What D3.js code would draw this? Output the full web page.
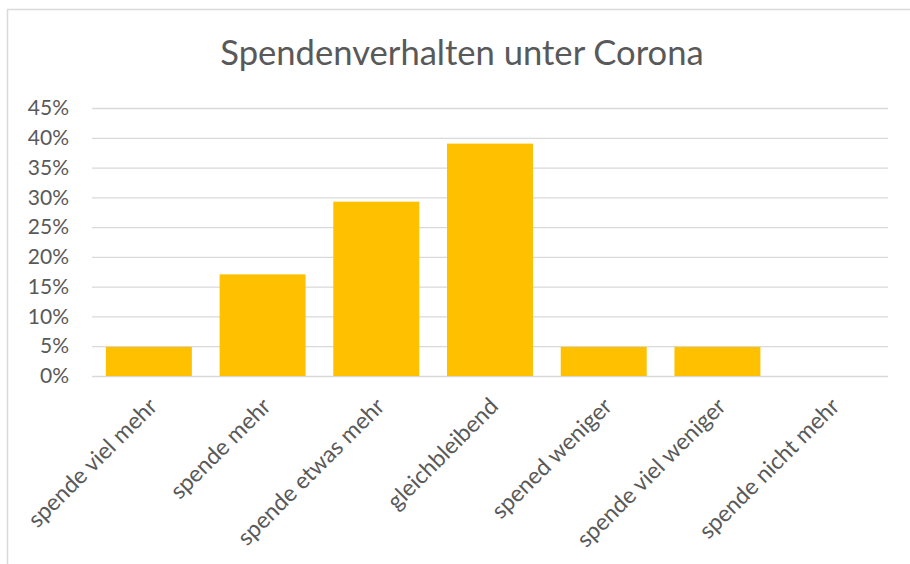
<!DOCTYPE html>
<html>
<head>
<meta charset="utf-8">
<script src="https://cdn.jsdelivr.net/npm/d3@7"></script>
<style>
  html, body { margin: 0; padding: 0; background: #fff; }
  svg { display: block; }
  text { font-family: Lato, "Open Sans", sans-serif; fill: #595959; }
</style>
</head>
<body>
<svg id="chart" width="910" height="564"></svg>
<script>
const title = "Spendenverhalten unter Corona";
const categories = ["spende viel mehr", "spende mehr", "spende etwas mehr", "gleichbleibend", "spened weniger", "spende viel weniger", "spende nicht mehr"];
const values = [0.0488, 0.1707, 0.2927, 0.3902, 0.0488, 0.0488, 0];
const yTicks = [0, 0.05, 0.10, 0.15, 0.20, 0.25, 0.30, 0.35, 0.40, 0.45];

const svg = d3.select("#chart");
const W = 910, H = 564;
const plot = { left: 92, right: 888, top: 108, bottom: 376 };

// chart border
svg.append("rect")
  .attr("x", 7.5).attr("y", 9.5)
  .attr("width", W + 10).attr("height", H + 10)
  .attr("fill", "#fff").attr("stroke", "#D9D9D9").attr("stroke-width", 1.5);

svg.append("text")
  .attr("x", 462).attr("y", 65)
  .attr("text-anchor", "middle")
  .style("font-size", "34.6px")
  .text(title);

const x = d3.scaleBand().domain(categories)
  .range([plot.left, plot.right])
  .paddingInner(0.244).paddingOuter(0.122);
const y = d3.scaleLinear().domain([0, 0.45]).range([plot.bottom, plot.top]);

// gridlines + y labels via axis
const yAxis = d3.axisLeft(y).tickValues(yTicks)
  .tickFormat(d3.format(".0%"))
  .tickSize(-(plot.right - plot.left)).tickPadding(23);
const gy = svg.append("g").attr("transform", `translate(${plot.left},0)`).call(yAxis);
gy.select(".domain").remove();
gy.selectAll(".tick line").attr("stroke", "#D9D9D9").attr("stroke-width", 1.3);
gy.selectAll(".tick text")
  .attr("fill", "#595959")
  .style("font-size", "21px").style("font-family", "Lato, 'Open Sans', sans-serif");

// bars
svg.append("g").selectAll("rect").data(values).join("rect")
  .attr("x", (d, i) => x(categories[i]))
  .attr("y", d => y(d))
  .attr("width", x.bandwidth())
  .attr("height", d => y(0) - y(d))
  .attr("fill", "#FFC000");

// x labels
const xAxis = d3.axisBottom(x).tickSize(0).tickPadding(0);
const gx = svg.append("g").attr("transform", `translate(0,${plot.bottom})`).call(xAxis);
gx.select(".domain").remove();
gx.selectAll(".tick text")
  .attr("fill", "#595959")
  .style("font-size", "23px").style("font-family", "Lato, 'Open Sans', sans-serif")
  .attr("text-anchor", "end")
  .attr("x", 0).attr("y", 0).attr("dy", "0.72em")
  .attr("transform", "translate(-2,20) rotate(-45)");
</script>
</body>
</html>
